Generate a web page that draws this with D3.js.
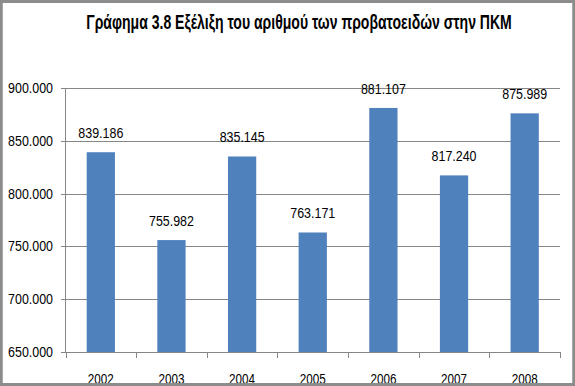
<!DOCTYPE html>
<html>
<head>
<meta charset="utf-8">
<script src="https://cdn.jsdelivr.net/npm/d3@7"></script>
<style>
  body { margin: 0; background: #fff; }
  svg { display: block; font-family: "Liberation Sans Narrow", "Liberation Sans", Arial, sans-serif; }
</style>
</head>
<body>
<div id="chart"></div>
<script>
// Chart data
var years = ["2002", "2003", "2004", "2005", "2006", "2007", "2008"];
var sheep = [839186, 755982, 835145, 763171, 881107, 817240, 875989];
var yTicks = [650000, 700000, 750000, 800000, 850000, 900000];
var title = "Γράφημα 3.8 Εξέλιξη του αριθμού των προβατοειδών στην ΠΚΜ";

var width = 575, height = 386;

var svg = d3.select("#chart")
    .append("svg")
    .attr("width", width)
    .attr("height", height);

svg.append("rect")
    .attr("width", width)
    .attr("height", height)
    .attr("fill", "#fff");

// Greek number format: dot as thousands separator
function label(v) {
    return d3.format(",")(v).replace(/,/g, ".");
}

// squeeze a text horizontally to a target width (Calibri-like narrow look)
function squeeze(sel, target, ax, ay) {
    sel.each(function () {
        var w = this.getComputedTextLength();
        var k = Math.min(1, target / w);
        d3.select(this).attr("transform", "translate(" + ax + "," + ay + ") scale(" + k + ",1)");
    });
}

var x = d3.scaleBand().domain(years).range([65.5, 560]).paddingInner(0.6).paddingOuter(0.3);
var y = d3.scaleLinear().domain([650000, 900000]).range([352, 88]);

// Title
var titleText = svg.append("text")
    .attr("text-anchor", "middle")
    .attr("font-size", 20)
    .attr("font-weight", "bold")
    .attr("fill", "#000")
    .text(title);
squeeze(titleText, 426, 299, 29);

// Gridlines
svg.append("g")
    .selectAll("line")
    .data(yTicks)
    .enter().append("line")
    .attr("x1", 61)
    .attr("x2", 560)
    .attr("y1", function (d) { return Math.round(y(d)) + 0.5; })
    .attr("y2", function (d) { return Math.round(y(d)) + 0.5; })
    .attr("stroke", "#868686")
    .attr("stroke-width", 1);

// Y axis line
svg.append("line")
    .attr("x1", 65.5).attr("x2", 65.5)
    .attr("y1", y(900000)).attr("y2", 352.5)
    .attr("stroke", "#868686");

// Y tick labels
svg.append("g")
    .selectAll("text")
    .data(yTicks)
    .enter().append("text")
    .attr("text-anchor", "end")
    .attr("font-size", 15)
    .attr("fill", "#000")
    .text(label)
    .each(function (d) { squeeze(d3.select(this), 45, 53, y(d) + 5); });

// Bars
svg.append("g")
    .selectAll("rect")
    .data(sheep)
    .enter().append("rect")
    .attr("x", function (d, i) { return x(years[i]); })
    .attr("width", x.bandwidth())
    .attr("y", function (d) { return y(d); })
    .attr("height", function (d) { return 352 - y(d); })
    .attr("fill", "#4F81BD");

// Value labels
svg.append("g")
    .selectAll("text")
    .data(sheep)
    .enter().append("text")
    .attr("text-anchor", "middle")
    .attr("font-size", 15)
    .attr("fill", "#000")
    .text(label)
    .each(function (d, i) {
        squeeze(d3.select(this), 45, x(years[i]) + x.bandwidth() / 2, y(d) - 14);
    });

// X axis line and ticks at band boundaries
svg.append("line")
    .attr("x1", 61).attr("x2", 560)
    .attr("y1", 352.5).attr("y2", 352.5)
    .attr("stroke", "#868686");

var bounds = years.map(function (d) { return x(d) - x.step() * x.paddingOuter(); });
bounds.push(560);
svg.append("g")
    .selectAll("line")
    .data(bounds)
    .enter().append("line")
    .attr("x1", function (d) { return Math.round(d) + 0.5; })
    .attr("x2", function (d) { return Math.round(d) + 0.5; })
    .attr("y1", 352)
    .attr("y2", 358)
    .attr("stroke", "#868686");

// X tick labels
svg.append("g")
    .selectAll("text")
    .data(years)
    .enter().append("text")
    .attr("text-anchor", "middle")
    .attr("font-size", 15)
    .attr("fill", "#000")
    .text(function (d) { return d; })
    .each(function (d) {
        squeeze(d3.select(this), 26, x(d) + x.bandwidth() / 2, 383.5);
    });

// Outer frame
svg.append("rect")
    .attr("x", 1.25).attr("y", 1.5)
    .attr("width", width - 2.5).attr("height", height - 3)
    .attr("fill", "none")
    .attr("stroke", "#8c8c8c")
    .attr("stroke-width", 3);
</script>
</body>
</html>
